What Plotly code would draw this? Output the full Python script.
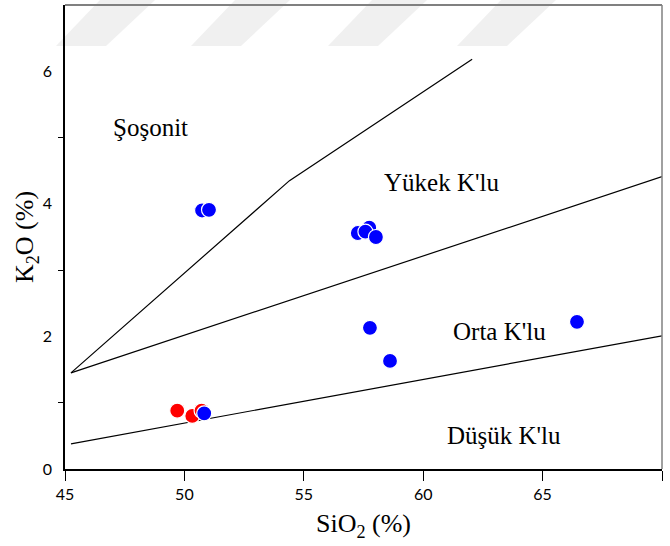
import plotly.graph_objects as go

# Sample compositions (wt %)
blue_sio2 = [50.74, 51.03, 57.26, 57.74, 57.58, 58.02, 57.77, 58.61, 66.44, 50.83]
blue_k2o = [3.90, 3.91, 3.56, 3.64, 3.58, 3.50, 2.13, 1.63, 2.22, 0.84]
red_sio2 = [49.70, 50.33, 50.72]
red_k2o = [0.88, 0.80, 0.88]

# Series boundaries
shos_x = [45.25, 54.4, 62.05]
shos_y = [1.45, 4.35, 6.18]
highk_x = [45.25, 70.0]
highk_y = [1.45, 4.41]
lowk_x = [45.25, 70.0]
lowk_y = [0.38, 2.01]

# Field names
field_x = [48.6, 60.75, 63.2, 63.4]
field_y = [5.15, 4.32, 2.08, 0.51]
field_names = ["Şoşonit", "Yükek K'lu", "Orta K'lu", "Düşük K'lu"]

x_ticks = [45, 50, 55, 60, 65, 70]
y_ticks = [0, 2, 4, 6]
y_minor = [1, 3, 5]

fig = go.Figure()

line_style = dict(color="black", width=1.2)
for bx, by in [(shos_x, shos_y), (highk_x, highk_y), (lowk_x, lowk_y)]:
    fig.add_trace(go.Scatter(x=bx, y=by, mode="lines", line=line_style,
                             hoverinfo="skip", showlegend=False))

fig.add_trace(go.Scatter(x=red_sio2, y=red_k2o, mode="markers",
                         marker=dict(size=15, color="#ff0000",
                                     line=dict(color="white", width=1.2)),
                         showlegend=False))
fig.add_trace(go.Scatter(x=blue_sio2, y=blue_k2o, mode="markers",
                         marker=dict(size=15, color="#0000ff",
                                     line=dict(color="white", width=1.2)),
                         showlegend=False))

for fx, fy, name in zip(field_x, field_y, field_names):
    fig.add_annotation(x=fx, y=fy, text=name, showarrow=False,
                       font=dict(family="Liberation Serif", size=25, color="black"))

# Faint diagonal band decoration across the top
L, R, T, B = 65, 662, 5, 469
def px(x):
    return (x - L) / (R - L)
def py(y):
    return (B - y) / (B - T)

for x0 in [56, 191, 328, 457]:
    bl, br = x0, x0 + 50
    tl, tr = x0 + 44, x0 + 99
    path = (f"M {px(bl)},{py(46)} L {px(br)},{py(46)} "
            f"L {px(tr)},{py(0)} L {px(tl)},{py(0)} Z")
    fig.add_shape(type="path", path=path, xref="paper", yref="paper",
                  fillcolor="#f0f0f0", line=dict(width=0), layer="below")

# Top and right frame edges in grey
fig.add_shape(type="line", xref="paper", yref="paper", x0=0, x1=1, y0=1, y1=1,
              line=dict(color="#808080", width=2))
fig.add_shape(type="line", xref="paper", yref="paper", x0=1, x1=1, y0=0, y1=1,
              line=dict(color="#808080", width=1.5))

fig.update_layout(
    width=670, height=546,
    margin=dict(l=65, r=8, t=5, b=77),
    paper_bgcolor="white", plot_bgcolor="rgba(0,0,0,0)",
    xaxis=dict(
        range=[45, 70], tickvals=x_ticks, ticks="outside", ticklen=10,
        tickcolor="black", tickwidth=1.2, showline=True, linecolor="black",
        linewidth=1.5, showgrid=False, zeroline=False,
        tickfont=dict(family="Lato", size=16, color="black"),
        title=dict(text="SiO<sub>2</sub> (%)", standoff=12,
                   font=dict(family="Liberation Serif", size=26, color="black")),
    ),
    yaxis=dict(
        range=[0, 7], tickvals=y_ticks, ticks="outside", ticklen=8,
        tickcolor="rgba(0,0,0,0)", showline=True, linecolor="black",
        linewidth=1.5, showgrid=False, zeroline=False,
        minor=dict(tickvals=y_minor, ticks="outside", ticklen=5,
                   tickcolor="black", tickwidth=1.2, showgrid=False),
        tickfont=dict(family="Lato", size=16, color="black"),
        title=dict(text="K<sub>2</sub>O (%)", standoff=0,
                   font=dict(family="Liberation Serif", size=26, color="black")),
    ),
)

fig.write_html("out.html")
